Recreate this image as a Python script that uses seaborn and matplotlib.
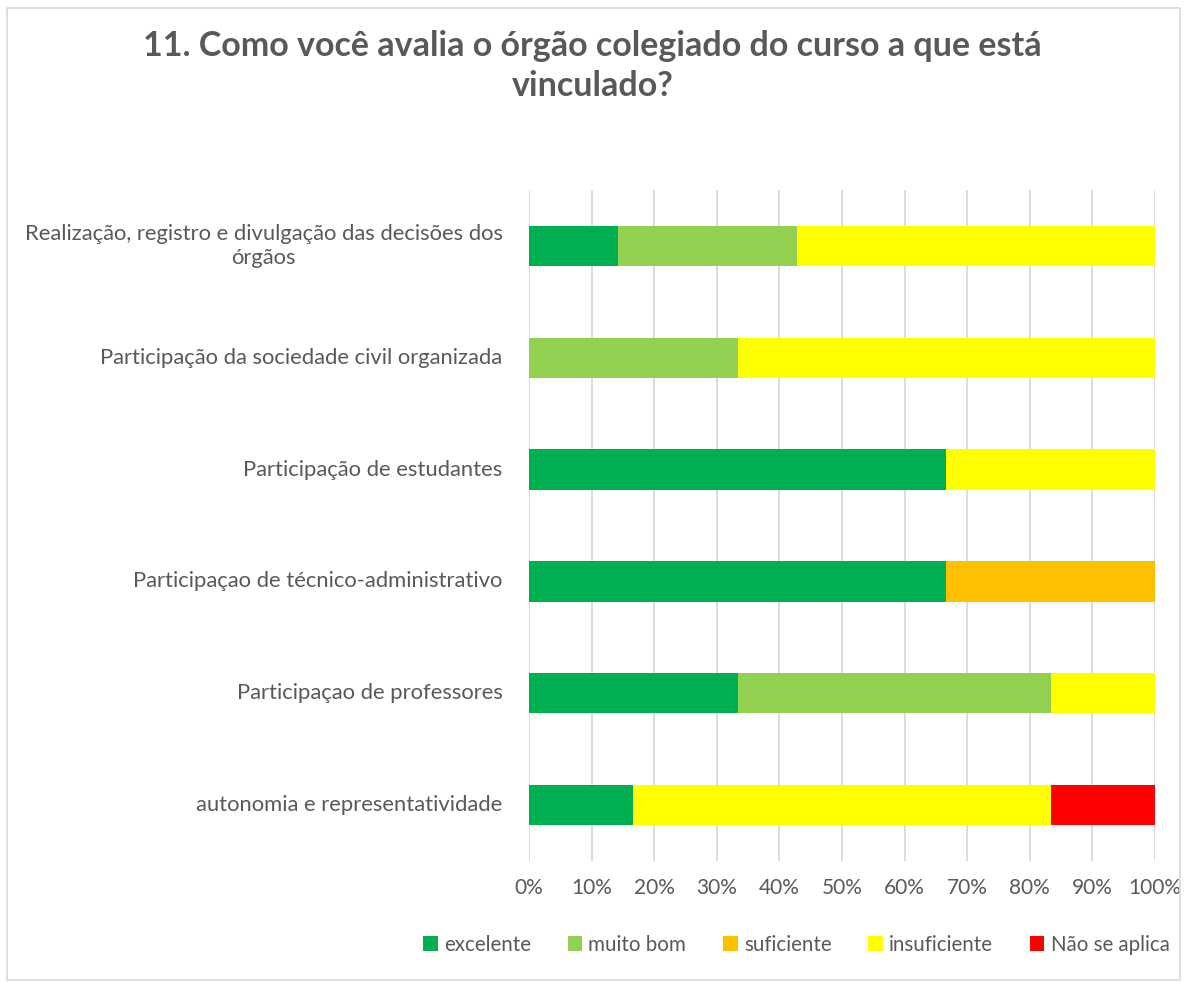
import pandas as pd
import seaborn as sns
import matplotlib.pyplot as plt
from matplotlib.patches import Rectangle
from matplotlib.ticker import PercentFormatter

# dados (percentuais por item)
itens = [
    'Realização, registro e divulgação das decisões dos\nórgãos',
    'Participação da sociedade civil organizada',
    'Participação de estudantes',
    'Participaçao de técnico-administrativo',
    'Participaçao de professores',
    'autonomia e representatividade',
]
respostas = ['excelente', 'muito bom', 'suficiente', 'insuficiente', 'Não se aplica']
excelente = [14.29, 0, 66.67, 66.67, 33.33, 16.67]
muito_bom = [28.57, 33.33, 0, 0, 50.0, 0]
suficiente = [0, 0, 0, 33.33, 0, 0]
insuficiente = [57.14, 66.67, 33.33, 0, 16.67, 66.67]
nao_se_aplica = [0, 0, 0, 0, 0, 16.67]
cores = ['#00B050', '#92D050', '#FFC000', '#FFFF00', '#FF0000']

df = pd.DataFrame({'item': itens, 'excelente': excelente, 'muito bom': muito_bom,
                   'suficiente': suficiente, 'insuficiente': insuficiente,
                   'Não se aplica': nao_se_aplica})
acum = df[respostas].cumsum(axis=1)

sns.set_style('white')
plt.rcParams['font.family'] = ['Lato', 'DejaVu Sans']
cinza = '#595959'

fig = plt.figure(figsize=(11.85, 9.82), dpi=100)
ax = fig.add_axes([0.4464, 0.1232, 0.5283, 0.6833])

# barras empilhadas: desenha do acumulado maior para o menor
for resp, cor in reversed(list(zip(respostas, cores))):
    sns.barplot(x=acum[resp], y=df['item'], orient='h', color=cor, saturation=1,
                width=0.36, ax=ax, label=resp, zorder=3, linewidth=0)
if ax.get_legend() is not None:
    ax.get_legend().remove()

ax.set_xlim(0, 100)
ax.set_xticks(range(0, 101, 10))
ax.xaxis.set_major_formatter(PercentFormatter(decimals=0))
ax.grid(axis='x', color='#D9D9D9', linewidth=1.3, zorder=0)
for s in ax.spines.values():
    s.set_visible(False)
ax.set_xlabel('')
ax.set_ylabel('')
ax.tick_params(axis='x', labelsize=15, labelcolor=cinza, length=0, pad=12)
ax.tick_params(axis='y', labelsize=15.8, labelcolor=cinza, length=0, pad=19)

# rótulos do eixo y como texto (para centralizar linhas quebradas)
ax.set_yticks(range(len(itens)), [''] * len(itens))
trans = ax.get_yaxis_transform()
for i, nome in enumerate(itens):
    ax.annotate(nome, xy=(0, i), xycoords=trans, xytext=(-19, 0),
                textcoords='offset points', ha='right', va='center',
                multialignment='center', fontsize=15.8, color=cinza)

# legenda
handles, labels = ax.get_legend_handles_labels()
ordem = [labels.index(r) for r in respostas]
fig.legend([handles[i] for i in ordem], [labels[i] for i in ordem],
           loc='center', bbox_to_anchor=(0.672, 0.038), ncol=5, frameon=False,
           fontsize=14.8, labelcolor=cinza, handlelength=0.7, handleheight=0.7,
           handletextpad=0.3, columnspacing=1.8)

fig.text(0.5, 0.969, '11. Como você avalia o órgão colegiado do curso a que está\nvinculado?',
         ha='center', va='top', fontsize=24.5, fontweight='bold', color=cinza,
         linespacing=1.3)

# moldura do gráfico
fig.patches.append(Rectangle((0.006, 0.002), 0.99, 0.99, transform=fig.transFigure,
                             fill=False, edgecolor='#D9D9D9', linewidth=1.2))

fig.savefig('out.png', dpi=100)
